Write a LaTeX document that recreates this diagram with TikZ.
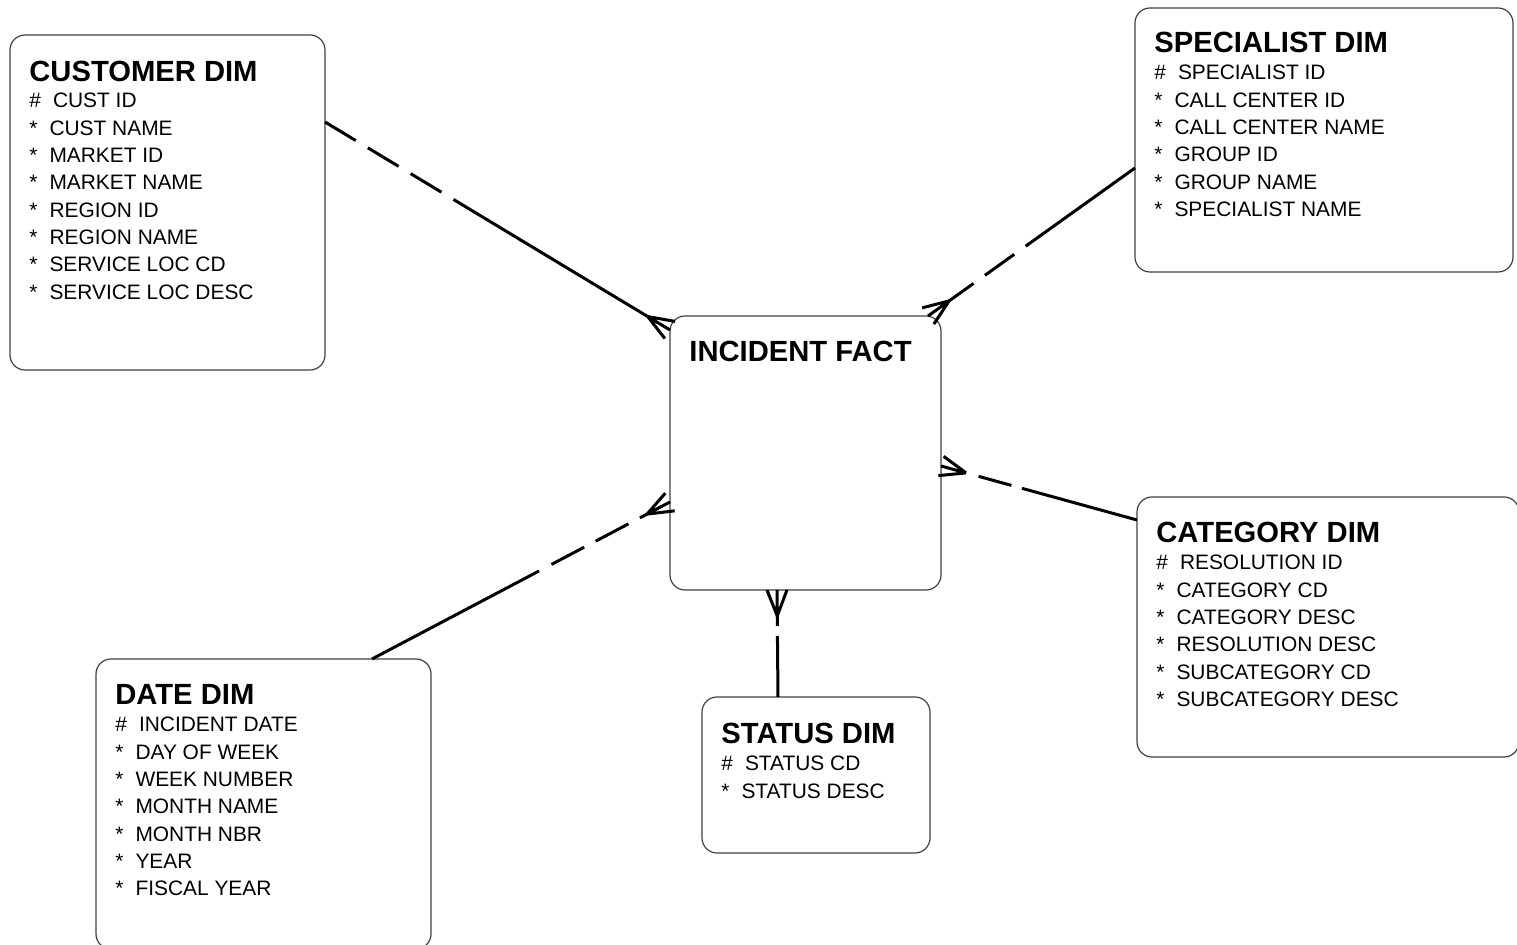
\documentclass[tikz,border=0pt]{standalone}
\usepackage{fontspec}
\setmainfont{Liberation Sans}
\usetikzlibrary{calc}

% crow's foot: #1 = far end of the line, #2 = point on the fact box
\newcommand{\crowfoot}[2]{%
  \draw[rel] ($(#2)!13pt!(#1)$) -- (#2)
    ($(#2)!13pt!(#1)$) -- ($(#2)!5pt!90:(#1)$)
    ($(#2)!13pt!(#1)$) -- ($(#2)!5pt!-90:(#1)$);}

\tikzset{
  tbl/.style={draw=black!75, line width=0.6pt, rounded corners=7.5pt,
    anchor=north west, inner sep=0pt, outer sep=0pt},
  ttl/.style={anchor=base west, inner sep=0pt,
    font=\bfseries\fontsize{14.6}{17}\selectfont},
  fld/.style={anchor=base west, inner sep=0pt,
    font=\fontsize{10.45}{13}\selectfont},
  rel/.style={line width=1.5pt},
}

\begin{document}
\begin{tikzpicture}[x=0.5pt, y=-0.5pt]

    \useasboundingbox (0,0) rectangle (1517,945);

    % --- 1. fact table ---
    \node[tbl, minimum width=135.5pt, minimum height=137pt] (fact) at (670,316) {};
    \node[ttl] (fact-t) at ([shift={(19,46)}]fact.north west) {INCIDENT FACT};

    % --- 2. customer dim ---
    \node[tbl, minimum width=157.5pt, minimum height=167.5pt] (cust) at (10,35) {};
    \node[ttl] (cust-t) at ([shift={(19,47)}]cust.north west) {CUSTOMER DIM};
    \node[fld] (cust-1) at ([shift={(19,73)}]cust.north west) {\#\hspace{6pt}CUST ID};
    \foreach \f [count=\i from 2] in {CUST NAME, MARKET ID, MARKET NAME, REGION ID,
        REGION NAME, SERVICE LOC CD, SERVICE LOC DESC}
      \node[fld] (cust-\i) at ([shift={(19,45.7+27.3*\i)}]cust.north west) {*\hspace{6pt}\f};

    % --- 3. specialist dim ---
    \node[tbl, minimum width=189pt, minimum height=132pt] (spec) at (1135,8) {};
    \node[ttl] (spec-t) at ([shift={(19,45)}]spec.north west) {SPECIALIST DIM};
    \node[fld] (spec-1) at ([shift={(19,72)}]spec.north west) {\#\hspace{6pt}SPECIALIST ID};
    \foreach \f [count=\i from 2] in {CALL CENTER ID, CALL CENTER NAME, GROUP ID,
        GROUP NAME, SPECIALIST NAME}
      \node[fld] (spec-\i) at ([shift={(19,44.7+27.3*\i)}]spec.north west) {*\hspace{6pt}\f};

    % --- 4. category dim ---
    \node[tbl, minimum width=191pt, minimum height=130pt] (cat) at (1137,497) {};
    \node[ttl] (cat-t) at ([shift={(19,46)}]cat.north west) {CATEGORY DIM};
    \node[fld] (cat-1) at ([shift={(19,73)}]cat.north west) {\#\hspace{6pt}RESOLUTION ID};
    \foreach \f [count=\i from 2] in {CATEGORY CD, CATEGORY DESC, RESOLUTION DESC,
        SUBCATEGORY CD, SUBCATEGORY DESC}
      \node[fld] (cat-\i) at ([shift={(19,45.7+27.3*\i)}]cat.north west) {*\hspace{6pt}\f};

    % --- 5. date dim ---
    \node[tbl, minimum width=167.5pt, minimum height=145pt] (date) at (96,659) {};
    \node[ttl] (date-t) at ([shift={(19,46)}]date.north west) {DATE DIM};
    \node[fld] (date-1) at ([shift={(19,73)}]date.north west) {\#\hspace{6pt}INCIDENT DATE};
    \foreach \f [count=\i from 2] in {DAY OF WEEK, WEEK NUMBER, MONTH NAME,
        MONTH NBR, YEAR, FISCAL YEAR}
      \node[fld] (date-\i) at ([shift={(19,45.7+27.3*\i)}]date.north west) {*\hspace{6pt}\f};

    % --- 6. status dim ---
    \node[tbl, minimum width=114pt, minimum height=78pt] (stat) at (702,697) {};
    \node[ttl] (stat-t) at ([shift={(19,47)}]stat.north west) {STATUS DIM};
    \node[fld] (stat-1) at ([shift={(19,74)}]stat.north west) {\#\hspace{6pt}STATUS CD};
    \node[fld] (stat-2) at ([shift={(19,101.3)}]stat.north west) {*\hspace{6pt}STATUS DESC};

    % --- 7. relations ---
    \coordinate (fact-nw) at ([shift={(0,14)}]fact.north west);
    \coordinate (fact-ne) at ([shift={(-13,0)}]fact.north east);
    \coordinate (fact-e)  at ([shift={(0,150)}]fact.north east);
    \coordinate (fact-w)  at ([shift={(0,186)}]fact.north west);
    \coordinate (fact-s)  at ([shift={(107,0)}]fact.south west);
    \coordinate (cust-e)  at ([shift={(0,87)}]cust.north east);
    \coordinate (spec-w)  at ([shift={(0,160)}]spec.north west);
    \coordinate (cat-w)   at ([shift={(0,23)}]cat.north west);
    \coordinate (date-n)  at ([shift={(276,0)}]date.north west);
    \coordinate (stat-n)  at ([shift={(76,0)}]stat.north west);

    % customer
    \draw[rel, dash pattern=on 18pt off 7pt] (cust-e) -- ($(cust-e)!75pt!(fact-nw)$);
    \draw[rel] ($(cust-e)!75pt!(fact-nw)$) -- ($(fact-nw)!13pt!(cust-e)$);
    \crowfoot{cust-e}{fact-nw}

    % specialist
    \draw[rel, dash pattern=on 15pt off 7pt on 18pt off 7pt]
      ($(fact-ne)!13pt!(spec-w)$) -- ($(fact-ne)!60pt!(spec-w)$);
    \draw[rel] ($(fact-ne)!60pt!(spec-w)$) -- (spec-w);
    \crowfoot{spec-w}{fact-ne}

    % category
    \draw[rel, dash pattern=on 0pt off 6.5pt on 17pt off 5.5pt]
      ($(fact-e)!13pt!(cat-w)$) -- ($(fact-e)!42pt!(cat-w)$);
    \draw[rel] ($(fact-e)!42pt!(cat-w)$) -- (cat-w);
    \crowfoot{cat-w}{fact-e}

    % date
    \draw[rel, dash pattern=on 4pt off 6.5pt on 18.5pt off 6.5pt on 18.5pt off 7pt]
      ($(fact-w)!13pt!(date-n)$) -- ($(fact-w)!74pt!(date-n)$);
    \draw[rel] ($(fact-w)!74pt!(date-n)$) -- (date-n);
    \crowfoot{date-n}{fact-w}

    % status
    \draw[rel, dash pattern=on 5pt off 5pt]
      ($(fact-s)!13pt!(stat-n)$) -- ($(fact-s)!23pt!(stat-n)$);
    \draw[rel] ($(fact-s)!23pt!(stat-n)$) -- (stat-n);
    \crowfoot{stat-n}{fact-s}

\end{tikzpicture}
\end{document}
